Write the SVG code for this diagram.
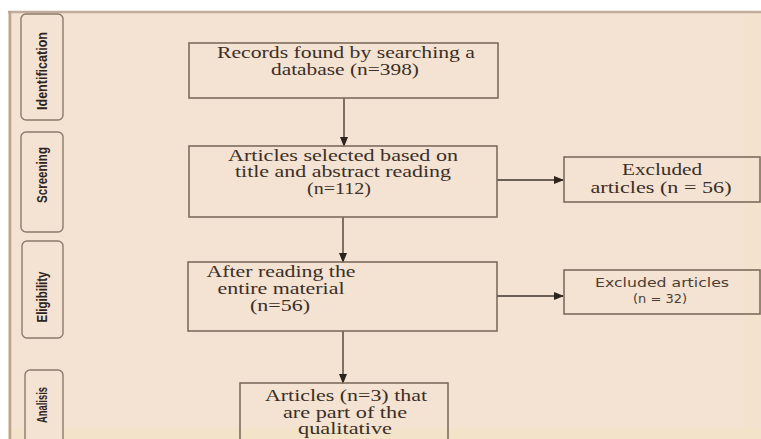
<svg xmlns="http://www.w3.org/2000/svg" width="761" height="439" viewBox="0 0 761 439">
<defs>
<style>
.box{fill:none;stroke:#7d6c5e;stroke-width:1.6}
.tab{fill:#f4e3d3;stroke:#8a7b6e;stroke-width:1.4}
.t{font-family:"Liberation Serif","Times New Roman",serif;font-size:16px;fill:#3b2f27;text-anchor:middle}
.s{font-family:"DejaVu Sans","Liberation Sans",sans-serif;font-size:11.5px;fill:#4a3e35;text-anchor:middle}
.v{font-family:"Liberation Sans Narrow","Liberation Sans",Arial,sans-serif;font-size:14px;font-weight:bold;fill:#2e241e;text-anchor:middle}
.c{stroke:#3e322a;stroke-width:1.3;fill:none}
</style>
<marker id="ah" markerWidth="10" markerHeight="8" refX="9" refY="4" orient="auto" markerUnits="userSpaceOnUse">
<path d="M0,0 L10,4 L0,8 Z" fill="#2e241e"/>
</marker>
</defs>
<rect x="0" y="0" width="761" height="439" fill="#ffffff"/>
<rect x="8" y="11" width="753" height="428" fill="#f4e2d2"/>
<rect x="8" y="428" width="753" height="11" fill="#f2e3c9"/>
<rect x="745" y="11" width="16" height="417" fill="#f3e2cd"/>
<line x1="8" y1="12" x2="761" y2="12" stroke="#c2ac9a" stroke-width="2.5"/>
<line x1="10" y1="11" x2="10" y2="439" stroke="#b8a493" stroke-width="2.5"/>

<g id="tab-identification">
<rect class="tab" x="21" y="14" width="42" height="106" rx="5"/>
<text class="v" transform="translate(47,71) rotate(-90)" textLength="78" lengthAdjust="spacingAndGlyphs">Identification</text>
</g>
<g id="tab-screening">
<rect class="tab" x="21" y="132" width="42" height="100" rx="5"/>
<text class="v" transform="translate(47,175) rotate(-90)" textLength="56" lengthAdjust="spacingAndGlyphs">Screening</text>
</g>
<g id="tab-eligibility">
<rect class="tab" x="22" y="241" width="41" height="97" rx="5"/>
<text class="v" transform="translate(47,297) rotate(-90)" textLength="51" lengthAdjust="spacingAndGlyphs">Eligibility</text>
</g>
<g id="tab-analisis">
<rect class="tab" x="25" y="370" width="38" height="75" rx="5"/>
<text class="v" transform="translate(47,405) rotate(-90)" textLength="36" lengthAdjust="spacingAndGlyphs">Analisis</text>
</g>

<g id="connectors">
<line class="c" x1="344" y1="98" x2="344" y2="146" marker-end="url(#ah)"/>
<line class="c" x1="343" y1="217" x2="343" y2="262" marker-end="url(#ah)"/>
<line class="c" x1="343" y1="331" x2="343" y2="383" marker-end="url(#ah)"/>
<line class="c" x1="497" y1="180" x2="563" y2="180" marker-end="url(#ah)"/>
<line class="c" x1="497" y1="296" x2="563" y2="296" marker-end="url(#ah)"/>
</g>

<g id="records">
<rect class="box" x="189" y="43" width="309" height="55"/>
<text class="t" x="346" y="58" textLength="258" lengthAdjust="spacingAndGlyphs">Records found by searching a</text>
<text class="t" x="345" y="75" textLength="148" lengthAdjust="spacingAndGlyphs">database (n=398)</text>
</g>
<g id="selected">
<rect class="box" x="189" y="146" width="308" height="71"/>
<text class="t" x="343" y="161" textLength="230" lengthAdjust="spacingAndGlyphs">Articles selected based on</text>
<text class="t" x="343" y="177" textLength="216" lengthAdjust="spacingAndGlyphs">title and abstract reading</text>
<text class="t" x="339" y="194" textLength="64" lengthAdjust="spacingAndGlyphs">(n=112)</text>
</g>
<g id="after-reading">
<rect class="box" x="188" y="262" width="309" height="69"/>
<text class="t" x="281" y="277" textLength="149" lengthAdjust="spacingAndGlyphs">After reading the</text>
<text class="t" x="281" y="294" textLength="127" lengthAdjust="spacingAndGlyphs">entire material</text>
<text class="t" x="280" y="311" textLength="60" lengthAdjust="spacingAndGlyphs">(n=56)</text>
</g>
<g id="qualitative">
<rect class="box" x="240" y="383" width="208" height="70"/>
<text class="t" x="346" y="401" textLength="162" lengthAdjust="spacingAndGlyphs">Articles (n=3) that</text>
<text class="t" x="345" y="418" textLength="124" lengthAdjust="spacingAndGlyphs">are part of the</text>
<text class="t" x="345" y="434" font-size="15" textLength="94" lengthAdjust="spacingAndGlyphs">qualitative</text>
</g>
<g id="excluded-56">
<rect class="box" x="564" y="157" width="196" height="45"/>
<text class="t" x="662" y="175" textLength="80" lengthAdjust="spacingAndGlyphs">Excluded</text>
<text class="t" x="661" y="193" textLength="141" lengthAdjust="spacingAndGlyphs">articles (n = 56)</text>
</g>
<g id="excluded-32">
<rect class="box" x="564" y="270" width="196" height="44"/>
<text class="s" x="662" y="287" textLength="134" lengthAdjust="spacingAndGlyphs">Excluded articles</text>
<text class="s" x="660" y="303" textLength="54" lengthAdjust="spacingAndGlyphs">(n = 32)</text>
</g>
</svg>
